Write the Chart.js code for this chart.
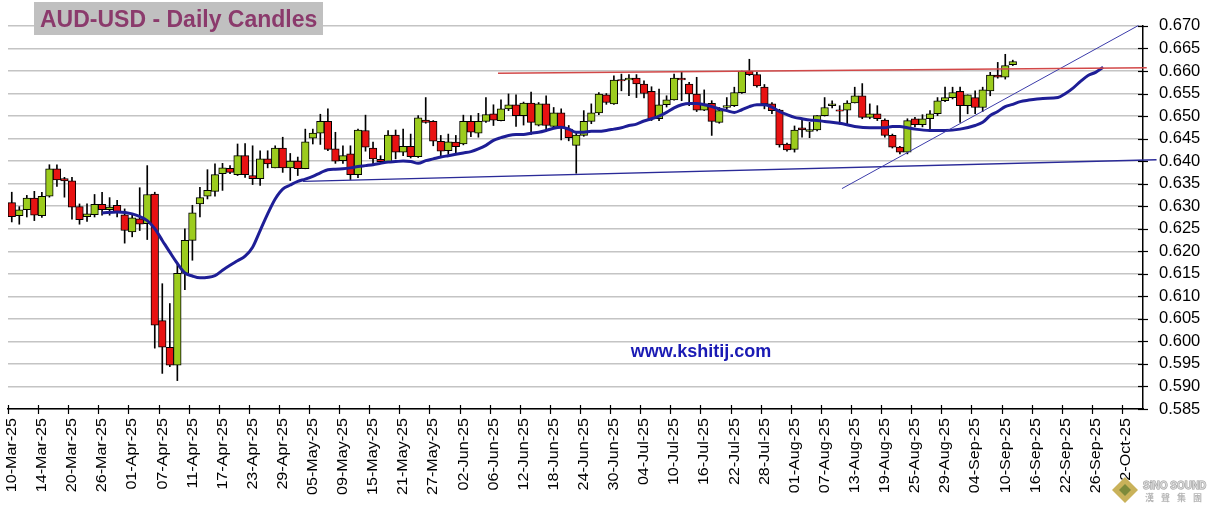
<!DOCTYPE html>
<html lang="en">
<head>
<meta charset="UTF-8">
<title>AUD-USD - Daily Candles</title>
<style>
  html, body { margin: 0; padding: 0; background: #fff; }
</style>
</head>
<body>
<canvas id="myChart" width="1211" height="513"></canvas>
<script src="https://cdn.jsdelivr.net/npm/chart.js"></script>
<script>
// tick labels, one every 4 trading days starting 10-Mar-25
const tickEvery = 4
const tickLabels = ['10-Mar-25','14-Mar-25','20-Mar-25','26-Mar-25','01-Apr-25','07-Apr-25','11-Apr-25','17-Apr-25',
  '23-Apr-25','29-Apr-25','05-May-25','09-May-25','15-May-25','21-May-25','27-May-25','02-Jun-25','06-Jun-25',
  '12-Jun-25','18-Jun-25','24-Jun-25','30-Jun-25','04-Jul-25','10-Jul-25','16-Jul-25','22-Jul-25','28-Jul-25',
  '01-Aug-25','07-Aug-25','13-Aug-25','19-Aug-25','25-Aug-25','29-Aug-25','04-Sep-25','10-Sep-25','16-Sep-25',
  '22-Sep-25','26-Sep-25','02-Oct-25']

// daily candles, index 0 = 10-Mar-25
const opens = [0.6308,0.6279,0.6292,0.6318,0.6279,0.6322,0.6383,0.6361,0.6356,0.6299,
  0.6277,0.6281,0.6304,0.6292,0.6302,0.6281,0.6243,0.6272,0.6261,0.6327,
  0.6046,0.5987,0.5947,0.6151,0.6224,0.6305,0.6322,0.6333,0.6372,0.6384,
  0.6370,0.6412,0.6368,0.6361,0.6405,0.6385,0.6429,0.6385,0.6400,0.6383,
  0.6451,0.6462,0.6488,0.6427,0.6401,0.6416,0.6370,0.6468,0.6429,0.6404,
  0.6399,0.6458,0.6420,0.6433,0.6410,0.6491,0.6488,0.6444,0.6423,0.6442,
  0.6438,0.6488,0.6462,0.6488,0.6505,0.6490,0.6516,0.6525,0.6501,0.6529,
  0.6480,0.6527,0.6477,0.6507,0.6471,0.6435,0.6457,0.6488,0.6507,0.6547,
  0.6527,0.6581,0.6580,0.6584,0.6571,0.6555,0.6494,0.6525,0.6536,0.6584,
  0.6571,0.6549,0.6513,0.6528,0.6486,0.6519,0.6523,0.6552,0.6599,0.6592,
  0.6564,0.6527,0.6513,0.6438,0.6426,0.6474,0.6466,0.6469,0.6501,0.6523,
  0.6514,0.6513,0.6529,0.6545,0.6497,0.6505,0.6491,0.6457,0.6431,0.6420,
  0.6494,0.6481,0.6494,0.6505,0.6534,0.6541,0.6555,0.6523,0.6541,0.6519,
  0.6556,0.6591,0.6586,0.6614]
const highs = [0.6331,0.6299,0.6324,0.6333,0.6331,0.6392,0.6392,0.6364,0.6364,0.6305,
  0.6305,0.6326,0.6331,0.6319,0.6313,0.6294,0.6283,0.6341,0.6390,0.6331,
  0.6128,0.6084,0.6173,0.6250,0.6302,0.6342,0.6381,0.6394,0.6395,0.6390,
  0.6438,0.6439,0.6434,0.6423,0.6423,0.6434,0.6453,0.6417,0.6409,0.6471,
  0.6471,0.6504,0.6516,0.6464,0.6434,0.6434,0.6471,0.6502,0.6442,0.6412,
  0.6468,0.6469,0.6471,0.6460,0.6501,0.6541,0.6490,0.6457,0.6460,0.6457,
  0.6502,0.6501,0.6506,0.6541,0.6525,0.6536,0.6549,0.6547,0.6531,0.6553,
  0.6530,0.6545,0.6519,0.6516,0.6479,0.6462,0.6512,0.6527,0.6552,0.6550,
  0.6589,0.6593,0.6592,0.6592,0.6578,0.6565,0.6560,0.6545,0.6593,0.6597,
  0.6575,0.6586,0.6558,0.6534,0.6519,0.6541,0.6564,0.6600,0.6626,0.6597,
  0.6570,0.6530,0.6515,0.6440,0.6478,0.6491,0.6486,0.6501,0.6541,0.6534,
  0.6523,0.6534,0.6564,0.6572,0.6527,0.6523,0.6494,0.6460,0.6433,0.6494,
  0.6497,0.6503,0.6512,0.6541,0.6564,0.6564,0.6564,0.6547,0.6556,0.6564,
  0.6597,0.6619,0.6637,0.6624]
const lows = [0.6265,0.6260,0.6276,0.6268,0.6275,0.6320,0.6344,0.6320,0.6271,0.6260,
  0.6266,0.6276,0.6280,0.6280,0.6276,0.6218,0.6232,0.6246,0.6226,0.5985,
  0.5929,0.5944,0.5913,0.6115,0.6180,0.6276,0.6316,0.6322,0.6335,0.6372,
  0.6368,0.6364,0.6348,0.6346,0.6385,0.6385,0.6375,0.6357,0.6368,0.6383,
  0.6438,0.6437,0.6423,0.6395,0.6395,0.6359,0.6363,0.6422,0.6392,0.6396,
  0.6398,0.6405,0.6412,0.6407,0.6408,0.6484,0.6434,0.6412,0.6415,0.6416,
  0.6436,0.6454,0.6453,0.6486,0.6479,0.6489,0.6512,0.6477,0.6480,0.6459,
  0.6478,0.6466,0.6475,0.6447,0.6445,0.6373,0.6455,0.6483,0.6503,0.6526,
  0.6526,0.6556,0.6545,0.6541,0.6540,0.6490,0.6490,0.6520,0.6535,0.6534,
  0.6523,0.6510,0.6512,0.6457,0.6484,0.6515,0.6521,0.6550,0.6590,0.6564,
  0.6516,0.6505,0.6431,0.6422,0.6420,0.6453,0.6452,0.6467,0.6500,0.6518,
  0.6482,0.6482,0.6529,0.6494,0.6494,0.6490,0.6453,0.6429,0.6416,0.6416,
  0.6476,0.6476,0.6466,0.6501,0.6532,0.6538,0.6486,0.6505,0.6505,0.6510,
  0.6545,0.6584,0.6582,0.6612]
const closes = [0.6277,0.6292,0.6318,0.6280,0.6322,0.6383,0.6358,0.6356,0.6298,0.6270,
  0.6283,0.6304,0.6292,0.6298,0.6287,0.6246,0.6274,0.6260,0.6326,0.6036,
  0.5987,0.5947,0.6151,0.6224,0.6285,0.6319,0.6335,0.6370,0.6385,0.6375,
  0.6412,0.6370,0.6361,0.6405,0.6394,0.6429,0.6385,0.6400,0.6383,0.6443,
  0.6462,0.6488,0.6426,0.6400,0.6412,0.6370,0.6469,0.6431,0.6405,0.6399,
  0.6458,0.6420,0.6433,0.6410,0.6496,0.6486,0.6444,0.6422,0.6443,0.6432,
  0.6488,0.6464,0.6488,0.6503,0.6491,0.6516,0.6525,0.6501,0.6529,0.6486,
  0.6527,0.6479,0.6507,0.6475,0.6452,0.6458,0.6488,0.6507,0.6549,0.6530,
  0.6580,0.6578,0.6584,0.6571,0.6550,0.6494,0.6525,0.6536,0.6584,0.6580,
  0.6549,0.6513,0.6527,0.6488,0.6512,0.6523,0.6552,0.6599,0.6592,0.6567,
  0.6527,0.6512,0.6436,0.6425,0.6469,0.6469,0.6470,0.6501,0.6519,0.6527,
  0.6511,0.6529,0.6545,0.6497,0.6505,0.6494,0.6457,0.6431,0.6420,0.6490,
  0.6481,0.6494,0.6505,0.6534,0.6541,0.6552,0.6523,0.6547,0.6519,0.6558,
  0.6591,0.6586,0.6612,0.6621]

// moving average (displaced forward), read at these day indexes
const maDays = [12,14,16,18,19,20,21,22,23,24,25,27,28,29,30,31,32,33,34,35,36,37,38,39,
  40,41,42,43,44,45,46,47,48,49,50,51,52,53,54,55,56,57,58,59,60,61,62,63,64,65,66,67,68,69,
  70,71,72,73,74,75,76,77,78,79,80,81,82,83,84,85,86,87,88,89,90,91,92,93,94,95,96,97,98,99,
  100,101,102,103,104,105,106,107,108,110,112,114,116,117,118,119,120,122,124,126,128,129,
  130,131,132,133,134,135,137,139,140,141,142,143,144,145]
const maValues = [0.6285,0.6287,0.6283,0.6268,0.6250,0.6224,0.6198,0.6173,0.6152,0.6145,0.6141,0.6146,
  0.6158,0.6169,0.6179,0.6189,0.6209,0.6246,0.6283,0.6316,0.6338,0.6347,0.6355,0.6360,
  0.6366,0.6374,0.6381,0.6382,0.6383,0.6385,0.6388,0.6390,0.6392,0.6395,0.6398,0.6399,0.6400,0.6399,0.6395,0.6401,
  0.6405,0.6409,0.6412,0.6415,0.6418,0.6421,0.6427,0.6435,0.6446,0.6452,0.6457,0.6459,0.6459,0.6462,
  0.6464,0.6468,0.6473,0.6475,0.6471,0.6464,0.6464,0.6466,0.6466,0.6468,0.6471,0.6474,0.6479,0.6482,0.6489,
  0.6494,0.6500,0.6508,0.6518,0.6525,0.6528,0.6528,0.6525,0.6521,0.6516,0.6512,0.6508,0.6514,0.6521,0.6525,
  0.6525,0.6520,0.6510,0.6503,0.6497,0.6494,0.6491,0.6490,0.6488,0.6484,0.6477,0.6474,0.6474,0.6477,0.6477,
  0.6474,0.6471,0.6468,0.6468,0.6471,0.6479,0.6486,
  0.6501,0.6510,0.6521,0.6526,0.6532,0.6535,0.6539,0.6541,0.6550,0.6562,0.6577,0.6590,0.6597,0.6608]

// hand drawn trend lines: [x in trading days, price]
const resistanceLine = [[65.1, 0.6595], [151.3, 0.6607]]
const supportLine = [[39.2, 0.6355], [152.6, 0.6403]]
const risingLine = [[110.8, 0.6339], [150.2, 0.6701]]

const green = '#9ccc1e', red = '#e81212'
const font = '"Liberation Sans", Arial, sans-serif'

const toPts = arr => arr.map(p => ({x: p[0], y: p[1]}))

const decor = {
    id: 'decor',
    afterDraw(chart) {
        const {ctx, chartArea: a, scales: {x, y}} = chart
        ctx.save()
        ctx.strokeStyle = '#000'
        ctx.lineWidth = 1.2
        // x ticks crossing the axis + vertical labels
        tickLabels.forEach((lab, k) => {
            const px = Math.round(x.getPixelForValue(k * tickEvery)) + 0.5
            ctx.beginPath(); ctx.moveTo(px, a.bottom - 4); ctx.lineTo(px, a.bottom + 5); ctx.stroke()
            ctx.save()
            ctx.translate(px + 4, a.bottom + 9)
            ctx.rotate(-Math.PI / 2)
            ctx.scale(1.15, 1)
            ctx.font = '14px ' + font
            ctx.fillStyle = '#000'
            ctx.textAlign = 'right'
            ctx.textBaseline = 'middle'
            ctx.fillText(lab, 0, 0)
            ctx.restore()
        })
        // y ticks crossing the axis
        y.ticks.forEach(t => {
            const py = Math.round(y.getPixelForValue(t.value)) + 0.5
            ctx.beginPath(); ctx.moveTo(a.right - 5, py); ctx.lineTo(a.right + 5, py); ctx.stroke()
        })
        // title box
        ctx.fillStyle = '#c0c0c0'
        ctx.fillRect(34, 2, 289, 33)
        ctx.fillStyle = '#8b3a6c'
        ctx.font = 'bold 23px ' + font
        ctx.textAlign = 'left'
        ctx.textBaseline = 'alphabetic'
        ctx.fillText('AUD-USD - Daily Candles', 40, 27)
        // site watermark
        ctx.fillStyle = '#1a1ab4'
        ctx.font = 'bold 18px ' + font
        ctx.textAlign = 'center'
        ctx.textBaseline = 'middle'
        ctx.fillText('www.kshitij.com', 701, 352)
        // small logo bottom right
        ctx.fillStyle = '#c9b25a'
        ctx.beginPath(); ctx.moveTo(1125, 477); ctx.lineTo(1138, 490); ctx.lineTo(1125, 503); ctx.lineTo(1112, 490); ctx.closePath(); ctx.fill()
        ctx.fillStyle = '#7d8a3a'
        ctx.beginPath(); ctx.moveTo(1125, 484); ctx.lineTo(1131, 490); ctx.lineTo(1125, 496); ctx.lineTo(1119, 490); ctx.closePath(); ctx.fill()
        ctx.fillStyle = '#d6d6d6'
        ctx.strokeStyle = '#9a9a9a'
        ctx.lineWidth = 1
        ctx.font = 'bold 10px ' + font
        ctx.textAlign = 'left'
        ctx.strokeText('SiNO SOUND', 1143, 486)
        ctx.fillText('SiNO SOUND', 1143, 486)
        ctx.font = 'bold 9px "Noto Sans CJK TC", sans-serif'
        ctx.fillStyle = '#b5b5b5'
        ;['漢', '聲', '集', '團'].forEach((c, k) => ctx.fillText(c, 1145 + k * 16, 498))
        ctx.restore()
    }
}

new Chart(document.getElementById('myChart'), {
    type: 'bar',
    data: {
        datasets: [
            { type: 'line', data: toPts(resistanceLine), borderColor: '#d24848', borderWidth: 1.6,
              pointRadius: 0, clip: false, order: 0 },
            { type: 'line', data: toPts(risingLine), borderColor: '#3c3caa', borderWidth: 1,
              pointRadius: 0, clip: false, order: 0 },
            { type: 'line', data: toPts(supportLine), borderColor: '#2a2a98', borderWidth: 1.4,
              pointRadius: 0, clip: false, order: 0 },
            { type: 'line', data: maDays.map((d, k) => ({x: d + 0.5, y: maValues[k]})),
              borderColor: '#1e1e96', borderWidth: 3, pointRadius: 0, tension: 0.35,
              cubicInterpolationMode: 'monotone', order: 1 },
            { type: 'bar', data: opens.map((o, i) => ({x: i + 0.5, y: [o, closes[i]]})),
              backgroundColor: opens.map((o, i) => closes[i] >= o ? green : red),
              borderColor: '#000', borderWidth: 1, borderSkipped: false,
              barThickness: 7.6, grouped: false, order: 2 },
            { type: 'bar', data: lows.map((l, i) => ({x: i + 0.5, y: [l, highs[i]]})),
              backgroundColor: '#000', borderWidth: 0, barThickness: 1, grouped: false, order: 3 }
        ]
    },
    options: {
        responsive: false,
        animation: false,
        devicePixelRatio: 1,
        events: [],
        layout: { padding: { left: 8, top: 25, right: 0, bottom: 0 } },
        plugins: { legend: { display: false }, tooltip: { enabled: false } },
        scales: {
            x: {
                type: 'linear', min: 0, max: 150.8, offset: false,
                ticks: { display: false },
                grid: { drawOnChartArea: false, drawTicks: false },
                border: { color: '#000', width: 1.5 },
                afterFit: s => { s.height = 104 }
            },
            y: {
                position: 'right', min: 0.585, max: 0.670,
                ticks: { stepSize: 0.005, maxTicksLimit: 30, autoSkip: false,
                         callback: v => v.toFixed(3), color: '#000', padding: 16,
                         font: { family: font, size: 16.5 } },
                grid: { color: '#c4c4c4', lineWidth: 1.5, drawTicks: false },
                border: { color: '#000', width: 1.5 },
                afterFit: s => { s.width = 68 }
            }
        }
    },
    plugins: [decor]
})
</script>
</body>
</html>
